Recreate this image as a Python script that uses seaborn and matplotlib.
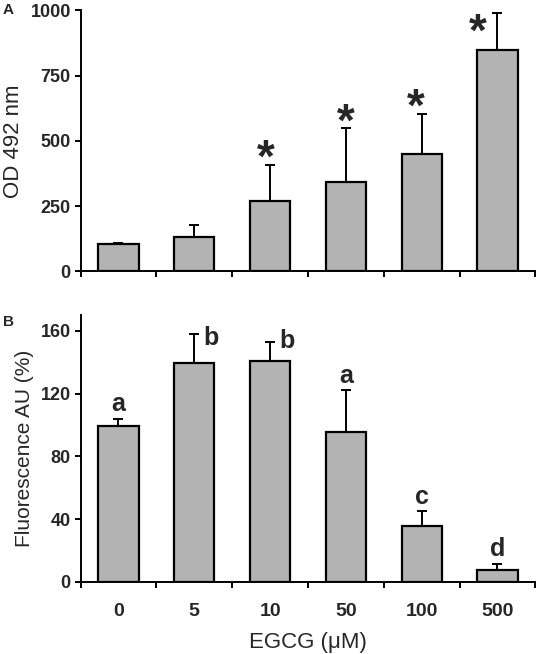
import numpy as np
import pandas as pd
import matplotlib
matplotlib.use("Agg")
import matplotlib.pyplot as plt
import seaborn as sns

# ---- data ----
doses = ["0", "5", "10", "50", "100", "500"]
od_mean = [104, 133, 270, 341, 449, 850]
od_err_top = [109, 178, 407, 551, 602, 991]
od_marks = ["", "", "*", "*", "*", "*"]

fl_mean = [99, 139.5, 140.5, 95.5, 35.5, 7.5]
fl_err_top = [104, 158, 153, 122, 45, 11.3]
fl_letters = ["a", "b", "b", "a", "c", "d"]

# ---- style ----
sns.set_theme(style="ticks")
plt.rcParams["font.family"] = ["Liberation Sans", "DejaVu Sans"]

fig = plt.figure(figsize=(5.37, 6.54), dpi=100)
axA = fig.add_axes([0.150, 0.5852, 0.847, 0.3988])
axB = fig.add_axes([0.150, 0.1101, 0.847, 0.4083])

bar_color = "#b3b3b3"


def draw(ax, means, tops, ylim, yticks):
    df = pd.DataFrame({"dose": doses, "val": means})
    sns.barplot(data=df, x="dose", y="val", color=bar_color, edgecolor="black",
                linewidth=1.6, width=0.53, saturation=1, ax=ax)
    x = np.arange(len(doses))
    up = np.array(tops) - np.array(means)
    ax.errorbar(x, means, yerr=[np.zeros_like(up), up], fmt="none",
                ecolor="black", elinewidth=1.4, capsize=3.6, capthick=1.4)
    ax.set_xlim(-0.5, len(doses) - 0.5)
    ax.set_ylim(*ylim)
    ax.set_yticks(yticks)
    ax.set_yticklabels([str(t) for t in yticks], fontsize=13, fontweight="bold")
    ax.set_xticks(np.arange(-0.5, len(doses), 1.0))
    ax.set_xticklabels([])
    ax.tick_params(axis="both", which="major", direction="out", length=4,
                   width=1.4, color="black", pad=3)
    for s in ["top", "right"]:
        ax.spines[s].set_visible(False)
    for s in ["left", "bottom"]:
        ax.spines[s].set_linewidth(1.4)
        ax.spines[s].set_color("black")
    ax.set_xlabel("")
    return x


# Panel A
x = draw(axA, od_mean, od_err_top, (0, 1000), [0, 250, 500, 750, 1000])
axA.set_ylabel("OD 492 nm", fontsize=16, labelpad=5)
star_dx = [0, 0, -3, 0, -4, -14]      # offsets in points
star_dy = [0, 0, -12, -13, -12, -31]
for xi, t, m, dx, dy in zip(x, od_err_top, od_marks, star_dx, star_dy):
    if m:
        axA.annotate(m, xy=(xi, t), xytext=(dx, dy), textcoords="offset points",
                     ha="center", va="bottom", fontsize=33, fontweight="bold",
                     annotation_clip=False)

# Panel B
x = draw(axB, fl_mean, fl_err_top, (0, 170), [0, 40, 80, 120, 160])
axB.set_ylabel("Fluorescence AU (%)", fontsize=15, labelpad=5)
axB.set_xticks(x, minor=True)
axB.set_xticklabels(doses, minor=True, fontsize=14, fontweight="bold")
axB.tick_params(axis="x", which="minor", length=0, pad=15)
axB.set_xlabel("EGCG (μM)", fontsize=16, labelpad=9)

let_dx = [0, 12, 12, 0, 0, 0]          # offsets in points
let_dy = [2, -12, -8, 2, 2, 2]
for xi, t, l, dx, dy in zip(x, fl_err_top, fl_letters, let_dx, let_dy):
    axB.annotate(l, xy=(xi, t), xytext=(dx, dy), textcoords="offset points",
                 ha="center", va="bottom", fontsize=18, fontweight="bold")

fig.text(0.004, 0.984, "A", fontsize=11, fontweight="bold", ha="left", va="center")
fig.text(0.006, 0.507, "B", fontsize=11, fontweight="bold", ha="left", va="center")

fig.savefig("out.png", dpi=100)
